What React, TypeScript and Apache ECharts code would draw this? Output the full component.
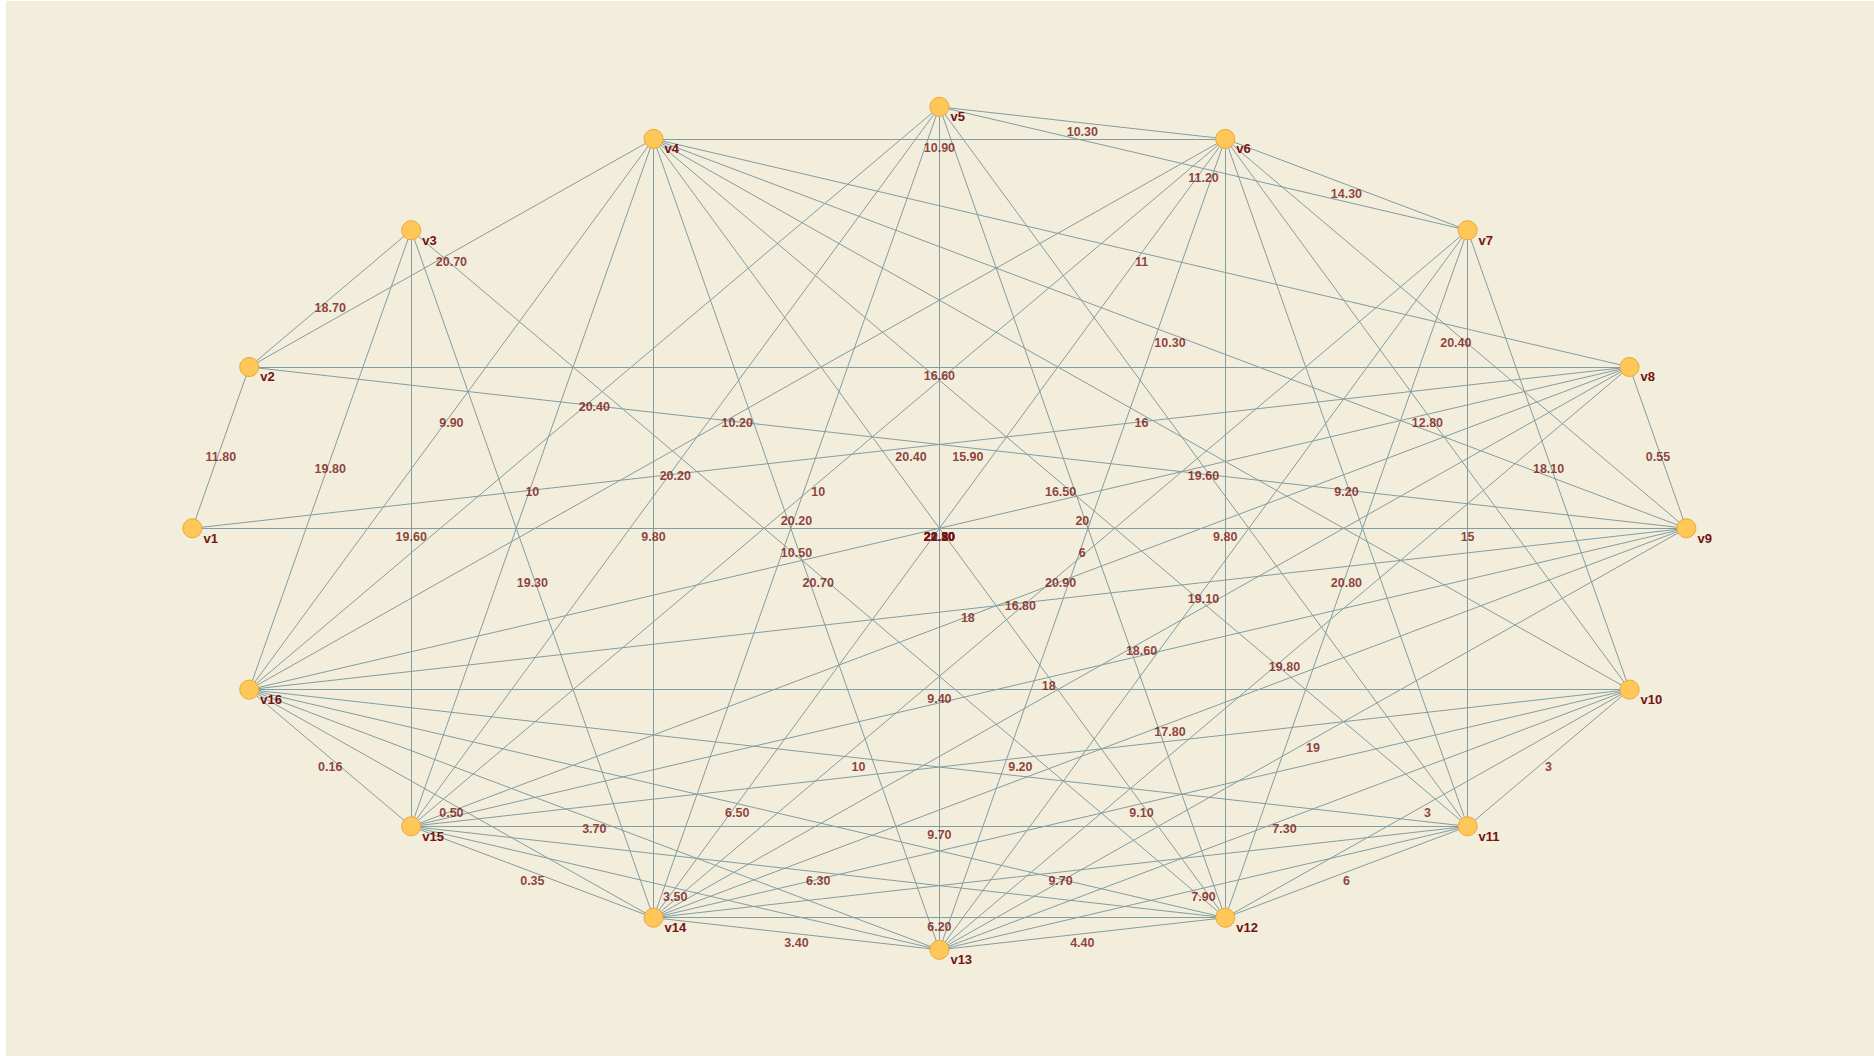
import React, { useEffect, useRef } from "react";
import * as echarts from "echarts";

// node names (placed evenly around an ellipse, v1 at the left, going clockwise)
const nodeNames: string[] = [
  "v1", "v2", "v3", "v4", "v5", "v6", "v7", "v8",
  "v9", "v10", "v11", "v12", "v13", "v14", "v15", "v16",
];

// edges: source, target, weight label
const edgeSources: number[] = [
  1, 1, 1,
  2, 2, 2, 2,
  3, 3, 3, 3,
  4, 4, 4, 4, 4, 4, 4, 4, 4, 4,
  5, 5, 5, 5, 5, 5, 5, 5,
  6, 6, 6, 6, 6, 6, 6, 6, 6,
  7, 7, 7, 7, 7,
  8, 8, 8, 8, 8,
  9, 9, 9, 9,
  10, 10, 10, 10, 10, 10,
  11, 11, 11, 11, 11,
  12, 12, 12, 12,
  13, 13, 13,
  14, 14,
  15,
];
const edgeTargets: number[] = [
  2, 8, 9,
  3, 4, 8, 9,
  12, 14, 15, 16,
  6, 8, 9, 10, 11, 12, 13, 14, 15, 16,
  6, 7, 11, 12, 13, 14, 15, 16,
  7, 9, 10, 11, 12, 13, 14, 15, 16,
  10, 11, 12, 13, 14,
  9, 13, 14, 15, 16,
  13, 14, 15, 16,
  11, 12, 13, 14, 15, 16,
  12, 13, 14, 15, 16,
  13, 14, 15, 16,
  14, 15, 16,
  15, 16,
  16,
];
const edgeWeights: string[] = [
  "11.80", "20.40", "21.80",
  "18.70", "20.70", "16.60", "15.90",
  "20.70", "19.30", "19.60", "19.80",
  "10.90", "11", "10.30", "16", "16.50", "21.30", "10.50", "9.80", "10", "9.90",
  "10.30", "11.20", "19.60", "20", "22.10", "20.20", "20.20", "20.40",
  "14.30", "20.40", "12.80", "9.20", "9.80", "6", "20.50", "10", "10.20",
  "18.10", "15", "20.80", "19.10", "20.90",
  "0.55", "19.80", "18.60", "16.80", "22.20",
  "19", "17.80", "18", "18",
  "3", "3", "7.30", "9.10", "9.20", "9.40",
  "6", "7.90", "9.70", "9.70", "10",
  "4.40", "6.20", "6.30", "6.50",
  "3.40", "3.50", "3.70",
  "0.35", "0.50",
  "0.16",
];

const W = 1868;
const H = 1055;
const CX = 933.4;
const CY = 527.3;
const RX = 747;
const RY = 421.5;

const LINE_COLOR = "#829da1";
const TEXT_COLOR = "#741313";
const FONT = "Arial, 'Liberation Sans', sans-serif";

export default function App() {
  const ref = useRef<HTMLDivElement>(null);

  useEffect(() => {
    if (!ref.current) return;
    const chart = echarts.init(ref.current, undefined, { renderer: "svg" });

    const pos = nodeNames.map((_, i) => {
      const a = ((180 - i * 22.5) * Math.PI) / 180;
      return [CX + RX * Math.cos(a), CY - RY * Math.sin(a)];
    });

    const nodes = nodeNames.map((name, i) => ({ name, value: pos[i] }));
    const links = edgeSources.map((s, k) => ({
      source: nodeNames[s - 1],
      target: nodeNames[edgeTargets[k] - 1],
    }));
    const mids = edgeSources.map((s, k) => {
      const p = pos[s - 1];
      const q = pos[edgeTargets[k] - 1];
      return { value: [(p[0] + q[0]) / 2, (p[1] + q[1]) / 2], name: edgeWeights[k] };
    });

    chart.setOption({
      animation: false,
      backgroundColor: "#f3eddc",
      grid: { left: 0, right: 0, top: 0, bottom: 0 },
      xAxis: { type: "value", min: 0, max: W, show: false },
      yAxis: { type: "value", min: 0, max: H, inverse: true, show: false },
      series: [
        {
          type: "graph",
          coordinateSystem: "cartesian2d",
          layout: "none",
          silent: true,
          symbol: "circle",
          symbolSize: 19,
          data: nodes,
          links,
          lineStyle: { color: LINE_COLOR, width: 1, opacity: 1, curveness: 0 },
          itemStyle: { color: "#ffc658", borderColor: "#e9a93a", borderWidth: 1 },
          label: {
            show: true,
            position: "right",
            distance: 1,
            offset: [0, 10],
            formatter: "{b}",
            color: TEXT_COLOR,
            fontFamily: FONT,
            fontWeight: "bold",
            fontSize: 13,
          },
          z: 2,
        },
        {
          type: "scatter",
          silent: true,
          symbolSize: 1,
          itemStyle: { color: "rgba(0,0,0,0)" },
          data: mids,
          label: {
            show: true,
            position: "inside",
            offset: [0, 9],
            formatter: "{b}",
            color: TEXT_COLOR,
            fontFamily: FONT,
            fontWeight: "bold",
            fontSize: 12.5,
          },
          z: 3,
        },
      ],
    });

    return () => chart.dispose();
  }, []);

  return (
    <div
      ref={ref}
      style={{ position: "fixed", left: 6, top: 1, width: W, height: H }}
    />
  );
}
